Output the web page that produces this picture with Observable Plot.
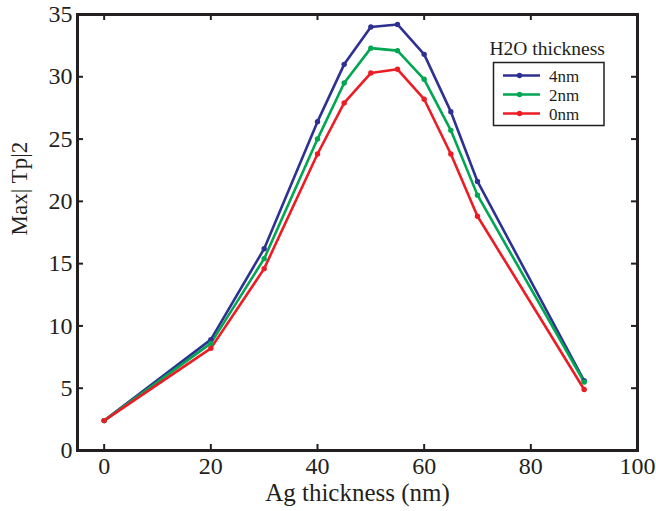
<!DOCTYPE html>
<html>
<head>
<meta charset="utf-8">
<script src="https://cdn.jsdelivr.net/npm/d3@7"></script>
<script src="https://cdn.jsdelivr.net/npm/@observablehq/plot@0.6"></script>
<style>
  body { margin: 0; background: #fff; font-family: "Liberation Serif", serif; }
  #wrap { position: relative; width: 656px; height: 511px; font-family: "Liberation Serif", serif; }
  #wrap svg, #wrap svg text { font-family: "Liberation Serif", serif; }
  #legend { position: absolute; left: 0; top: 0; pointer-events: none; }
</style>
</head>
<body>
<div id="wrap"></div>
<script>
// ---- data ----
const agThickness = [0, 20, 30, 40, 45, 50, 55, 60, 65, 70, 90];
const series = ["4nm", "2nm", "0nm"];
const colors = ["#2e3192", "#00a651", "#ed1c24"];
const values4nm = [2.4, 8.9, 16.2, 26.4, 31.0, 34.0, 34.2, 31.8, 27.2, 21.6, 5.6];
const values2nm = [2.4, 8.6, 15.4, 25.0, 29.5, 32.3, 32.1, 29.8, 25.7, 20.5, 5.5];
const values0nm = [2.4, 8.2, 14.6, 23.8, 27.9, 30.3, 30.6, 28.2, 23.8, 18.8, 4.9];
const xTicks = [0, 20, 40, 60, 80, 100];
const yTicks = [0, 5, 10, 15, 20, 25, 30, 35];
const xTitle = "Ag thickness (nm)";
const yTitle = "Max| Tp|2";
const legendTitle = "H2O thickness";

const allValues = [values4nm, values2nm, values0nm];
const table = series.flatMap((s, k) => agThickness.map((x, i) => ({series: s, x, y: allValues[k][i]})));

const W = 656, H = 511;
const mL = 77, mR = 19, mT = 14, mB = 61;
const iW = W - mL - mR, iH = H - mT - mB;
const tickLen = 6;
const ff = "Liberation Serif";
const ink = "#231f20";

const chart = Plot.plot({
  width: W, height: H,
  marginLeft: mL, marginRight: mR, marginTop: mT, marginBottom: mB,
  style: {fontSize: "24px", color: ink, background: "#fff", fontFamily: ff},
  x: {domain: [-5, 100]},
  y: {domain: [0, 35]},
  color: {domain: series, range: colors},
  marks: [
    Plot.axisX({ticks: xTicks, tickSize: 0, tickPadding: 6, label: null, fontFamily: ff, fontSize: 24}),
    Plot.axisY({ticks: yTicks, tickSize: 0, tickPadding: 5, label: null, fontFamily: ff, fontSize: 24}),
    Plot.tickX(xTicks, {x: d => d, insetTop: iH - tickLen, stroke: ink, strokeWidth: 2}),
    Plot.tickX(xTicks, {x: d => d, insetBottom: iH - tickLen, stroke: ink, strokeWidth: 2}),
    Plot.tickY(yTicks, {y: d => d, insetRight: iW - tickLen, stroke: ink, strokeWidth: 2}),
    Plot.tickY(yTicks, {y: d => d, insetLeft: iW - tickLen, stroke: ink, strokeWidth: 2}),
    Plot.line(table, {x: "x", y: "y", z: "series", stroke: "series", strokeWidth: 2.6}),
    Plot.dot(table, {x: "x", y: "y", fill: "series", r: 2.7}),
    Plot.frame({stroke: ink, strokeWidth: 3}),
    Plot.text([xTitle], {text: d => d, frameAnchor: "bottom", dy: 50, fontSize: 25, fill: ink, fontFamily: ff}),
    Plot.text([yTitle], {text: d => d, frameAnchor: "left", dx: -58, dy: 3, rotate: -90, fontSize: 23, fill: ink, fontFamily: ff})
  ]
});
const wrap = document.getElementById("wrap");
wrap.appendChild(chart);

// legend overlay (plain SVG, not a data mark)
const ns = "http://www.w3.org/2000/svg";
const leg = document.createElementNS(ns, "svg");
leg.setAttribute("id", "legend");
leg.setAttribute("width", W);
leg.setAttribute("height", H);
leg.style.position = "absolute";
leg.style.left = "0px";
leg.style.top = "0px";
const lx = 493.5, ly = 62.5;
let html = `<text x="${lx - 4}" y="${ly - 7.5}" font-family="${ff}" font-size="19.5" fill="${ink}">${legendTitle}</text>`;
html += `<rect x="${lx}" y="${ly}" width="110.5" height="63" fill="#fff" stroke="${ink}" stroke-width="1.5"/>`;
series.forEach((s, k) => {
  const cy = ly + 13 + k * 19;
  html += `<line x1="${lx + 9.5}" x2="${lx + 46.5}" y1="${cy}" y2="${cy}" stroke="${colors[k]}" stroke-width="2.6"/>`;
  html += `<circle cx="${lx + 26}" cy="${cy}" r="2.7" fill="${colors[k]}"/>`;
  html += `<text x="${lx + 55.5}" y="${cy + 6}" font-family="${ff}" font-size="17" fill="${ink}">${s}</text>`;
});
leg.innerHTML = html;
wrap.appendChild(leg);
</script>
</body>
</html>
